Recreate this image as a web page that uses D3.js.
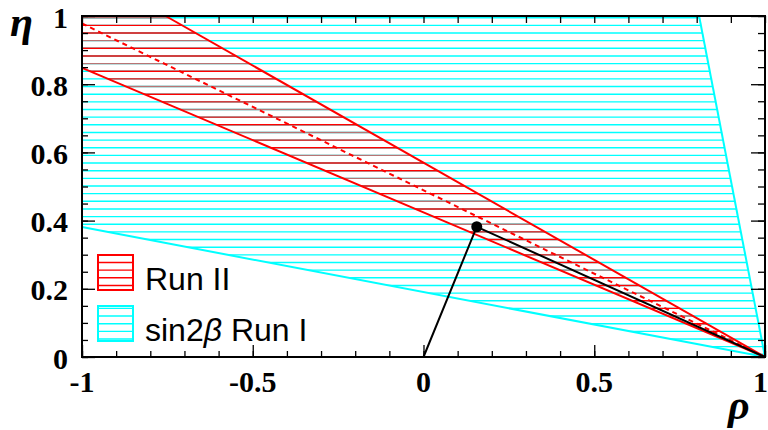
<!DOCTYPE html>
<html>
<head>
<meta charset="utf-8">
<script src="https://cdn.jsdelivr.net/npm/d3@7"></script>
<style>
  body { margin: 0; background: #fff; }
  svg { display: block; }
</style>
</head>
<body>
<div id="graphic"></div>
<script>
// bands in the (rho, eta) plane, all meeting at (1, 0)
var runIIUpper   = [[-0.755, 1], [1, 0]];
var runIILower   = [[-1, 0.848], [1, 0]];
var runIICentral = [[-1, 0.978], [1, 0]];
var runIUpper    = [[0.807, 1], [1, 0]];
var runILower    = [[-1, 0.381], [1, 0]];
var apex = [0.156, 0.382];
var triangleBase = [[0, 0], [1, 0]];

var xTickLabels = [-1, -0.5, 0, 0.5, 1];
var yTickLabels = [0, 0.2, 0.4, 0.6, 0.8, 1];
var legendItems = ["Run II", "sin2β Run I"];

var width = 768, height = 430;
var margin = {top: 16, right: 3, bottom: 73, left: 82};

var x = d3.scaleLinear().domain([-1, 1]).range([margin.left, width - margin.right]);
var y = d3.scaleLinear().domain([0, 1]).range([height - margin.bottom, margin.top]);

var svg = d3.select("#graphic").append("svg")
  .attr("width", width)
  .attr("height", height);

var defs = svg.append("defs");
var line = d3.line().x(function(d) { return x(d[0]); }).y(function(d) { return y(d[1]); });

// hatch regions
var runIPoly = [[-1, 1], runIUpper[0], [1, 0], runILower[0]];
var runIIPoly = [[-1, 1], runIIUpper[0], [1, 0], runIILower[0]];

defs.append("clipPath").attr("id", "clipRunI")
  .append("path").attr("d", line(runIPoly) + "Z");
defs.append("clipPath").attr("id", "clipRunII")
  .append("path").attr("d", line(runIIPoly) + "Z");

var hatchStep = 7.65;
var hatchYs = d3.range(margin.top + 1.7, y(0), hatchStep);

function hatch(clipId, colorFn) {
  svg.append("g").attr("clip-path", "url(#" + clipId + ")")
    .selectAll("line").data(hatchYs).enter().append("line")
    .attr("x1", x(-1)).attr("x2", x(1))
    .attr("y1", function(d) { return d; })
    .attr("y2", function(d) { return d; })
    .attr("stroke", colorFn)
    .attr("stroke-width", 1.4);
}

hatch("clipRunI", function() { return "#00ffff"; });
hatch("clipRunII", function(d, i) { return i % 3 === 0 ? "#b87474" : "#ff0000"; });

// boundaries
svg.append("path").attr("d", line(runILower)).attr("fill", "none").attr("stroke", "#00ffff").attr("stroke-width", 2);
svg.append("path").attr("d", line(runIUpper)).attr("fill", "none").attr("stroke", "#00ffff").attr("stroke-width", 2);
svg.append("path").attr("d", line(runIIUpper)).attr("fill", "none").attr("stroke", "#ff0000").attr("stroke-width", 2);
svg.append("path").attr("d", line(runIILower)).attr("fill", "none").attr("stroke", "#ff0000").attr("stroke-width", 2);
svg.append("path").attr("d", line(runIICentral)).attr("fill", "none").attr("stroke", "#ff0000")
  .attr("stroke-width", 2).attr("stroke-dasharray", "5,4");

// unitarity triangle
svg.append("path").attr("d", line([triangleBase[0], apex, triangleBase[1]]))
  .attr("fill", "none").attr("stroke", "#000").attr("stroke-width", 2);
svg.append("circle").attr("cx", x(apex[0])).attr("cy", y(apex[1])).attr("r", 5.5).attr("fill", "#000");

// axes with inward ticks on all four sides
var xMinor = d3.range(-1, 1.0001, 0.1);
var yMinor = d3.range(0, 1.0001, 0.05);

function axisGroup(axis, tx, ty) {
  var g = svg.append("g").attr("transform", "translate(" + tx + "," + ty + ")").call(axis);
  g.select(".domain").remove();
  g.selectAll(".tick line").attr("stroke", "#000").attr("stroke-width", 1.3);
  g.selectAll(".tick text").remove();
}
var noLabel = function() { return ""; };
axisGroup(d3.axisBottom(x).tickValues(xMinor).tickSize(-6).tickFormat(noLabel), 0, y(0));
axisGroup(d3.axisBottom(x).tickValues(xTickLabels).tickSize(-12).tickFormat(noLabel), 0, y(0));
axisGroup(d3.axisTop(x).tickValues(xMinor).tickSize(-7).tickFormat(noLabel), 0, y(1));
axisGroup(d3.axisLeft(y).tickValues(yMinor).tickSize(-6).tickFormat(noLabel), x(-1), 0);
axisGroup(d3.axisLeft(y).tickValues(yTickLabels).tickSize(-13).tickFormat(noLabel), x(-1), 0);
axisGroup(d3.axisRight(y).tickValues(yMinor).tickSize(-7).tickFormat(noLabel), x(1), 0);
axisGroup(d3.axisRight(y).tickValues(yTickLabels).tickSize(-14).tickFormat(noLabel), x(1), 0);

svg.append("rect")
  .attr("x", x(-1)).attr("y", y(1))
  .attr("width", x(1) - x(-1)).attr("height", y(0) - y(1))
  .attr("fill", "none").attr("stroke", "#000").attr("stroke-width", 2);

var labelFont = "'Liberation Serif', 'Times New Roman', serif";
var fmt = function(d) { return String(d); };

svg.selectAll(".xlab").data(xTickLabels).enter().append("text")
  .attr("x", function(d, i) { return i === xTickLabels.length - 1 ? width : x(d); })
  .attr("y", y(0) + 35)
  .attr("text-anchor", function(d, i) { return i === xTickLabels.length - 1 ? "end" : "middle"; })
  .style("font-family", labelFont).style("font-weight", "bold").style("font-size", "30px")
  .text(fmt);

svg.selectAll(".ylab").data(yTickLabels).enter().append("text")
  .attr("x", x(-1) - 14)
  .attr("y", function(d) { return y(d) + 11.5; })
  .attr("text-anchor", "end")
  .style("font-family", labelFont).style("font-weight", "bold").style("font-size", "30px")
  .text(fmt);

svg.append("text").attr("x", 10).attr("y", 36)
  .style("font-family", labelFont).style("font-weight", "bold").style("font-style", "italic")
  .style("font-size", "42px").text("η");
svg.append("text").attr("x", 728).attr("y", 419)
  .style("font-family", labelFont).style("font-weight", "bold").style("font-style", "italic")
  .style("font-size", "42px").text("ρ");

// legend
var legendBoxes = [
  {x: 98, y: 255, color: "#ff0000", clip: "legRunII"},
  {x: 98, y: 306, color: "#00ffff", clip: "legRunI"}
];
legendBoxes.forEach(function(b, i) {
  defs.append("clipPath").attr("id", b.clip)
    .append("rect").attr("x", b.x).attr("y", b.y).attr("width", 35).attr("height", 35);
  svg.append("g").attr("clip-path", "url(#" + b.clip + ")")
    .selectAll("line").data(hatchYs).enter().append("line")
    .attr("x1", b.x).attr("x2", b.x + 35)
    .attr("y1", function(d) { return d; })
    .attr("y2", function(d) { return d; })
    .attr("stroke", b.color).attr("stroke-width", 1.4);
  svg.append("rect").attr("x", b.x).attr("y", b.y).attr("width", 35).attr("height", 35)
    .attr("fill", "none").attr("stroke", b.color).attr("stroke-width", 2);
  var t = svg.append("text").attr("x", 145).attr("y", b.y + 35)
    .style("font-family", "'Liberation Sans', Arial, Helvetica, sans-serif")
    .style("font-size", "32px").attr("fill", "#000");
  if (i === 0) {
    t.text(legendItems[0]);
  } else {
    t.append("tspan").text("sin2");
    t.append("tspan").style("font-style", "italic").text("β");
    t.append("tspan").text(" Run I");
  }
});
</script>
</body>
</html>
